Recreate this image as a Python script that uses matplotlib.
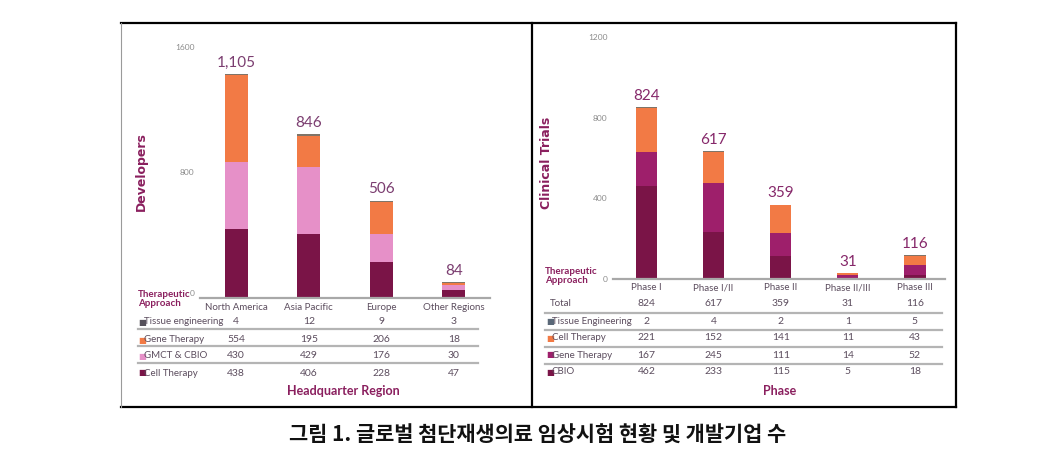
import matplotlib.pyplot as plt
from matplotlib.lines import Line2D
from matplotlib.transforms import blended_transform_factory, ScaledTranslation

W, H = 1064, 476

# left panel: developers by headquarter region
regions = ['North America', 'Asia Pacific', 'Europe', 'Other Regions']
region_labels = ['1,105', '846', '506', '84']
dev_tissue = [4, 12, 9, 3]
dev_gene = [554, 195, 206, 18]
dev_gmct = [430, 429, 176, 30]
dev_cell = [438, 406, 228, 47]

# right panel: clinical trials by phase
phases = ['Phase I', 'Phase I/II', 'Phase II', 'Phase II/III', 'Phase III']
trial_total = [824, 617, 359, 31, 116]
trial_tissue = [2, 4, 2, 1, 5]
trial_cell = [221, 152, 141, 11, 43]
trial_gene = [167, 245, 111, 14, 52]
trial_cbio = [462, 233, 115, 5, 18]

maroon = '#7a1447'
pink = '#e690c8'
orange = '#f27a45'
purple = '#9e1f6b'
grey_top = '#7f7468'
title_col = '#8a1f5e'
txt_col = '#5c4d5e'
tick_col = '#8c8c8c'
line_col = '#b4b4b4'

plt.rcParams['font.family'] = ['Lato', 'DejaVu Sans']


def fx(x):
    return x / W


def fy(y):
    return 1 - y / H


fig = plt.figure(figsize=(W / 100, H / 100), dpi=100)

ax1 = fig.add_axes([fx(200), fy(297.5), 290 / W, 250.5 / H])
ax2 = fig.add_axes([fx(613), fy(279), 332 / W, 242 / H])

# stacked bars, left
x1 = range(len(regions))
bw = 0.32
bottom = [0] * len(regions)
for vals, col in [(dev_cell, maroon), (dev_gmct, pink), (dev_gene, orange), (dev_tissue, grey_top)]:
    ax1.bar(x1, vals, bw, bottom=bottom, color=col, zorder=2)
    bottom = [b + v for b, v in zip(bottom, vals)]
for i, lab in enumerate(region_labels):
    ax1.annotate(lab, (i, bottom[i]), xytext=(0, 3), textcoords='offset points',
                 ha='center', va='bottom', fontsize=11, color='#7b3d70')
ax1.set_xlim(-0.5, 3.5)
ax1.set_ylim(0, 1600)
ax1.set_yticks([0, 800, 1600])

# stacked bars, right
x2 = range(len(phases))
bottom2 = [0] * len(phases)
for vals, col in [(trial_cbio, maroon), (trial_gene, purple), (trial_cell, orange), (trial_tissue, grey_top)]:
    ax2.bar(x2, vals, bw, bottom=bottom2, color=col, zorder=2)
    bottom2 = [b + v for b, v in zip(bottom2, vals)]
for i, tot in enumerate(trial_total):
    ax2.annotate(str(tot), (i, bottom2[i]), xytext=(0, 3), textcoords='offset points',
                 ha='center', va='bottom', fontsize=11, color='#86286a')
ax2.set_xlim(-0.5, 4.45)
ax2.set_ylim(0, 1200)
ax2.set_yticks([0, 400, 800, 1200])

for ax in (ax1, ax2):
    for s in ('top', 'right', 'left'):
        ax.spines[s].set_visible(False)
    ax.spines['bottom'].set_color('#a8a8a8')
    ax.spines['bottom'].set_linewidth(1.6)
    ax.set_xticks([])
    ax.tick_params(axis='y', length=0, labelsize=6, labelcolor=tick_col, pad=4)
    ax.patch.set_alpha(0)

# the zero label sits a little above the baseline in the original
lift = ScaledTranslation(0, 4 / 100, fig.dpi_scale_trans)
zero = ax1.get_yticklabels()[0]
zero.set_transform(zero.get_transform() + lift)


def table(ax, cats, cat_y, rows, lines, x_label, x_end, label_x):
    tr = blended_transform_factory(ax.transData, fig.transFigure)
    for i, c in enumerate(cats):
        ax.text(i, fy(cat_y), c, transform=tr, ha='center', va='center',
                fontsize=7, color=txt_col)
    for name, vals, col, y in rows:
        if col is None:
            fig.text(fx(label_x + 2), fy(y), name, ha='left', va='center',
                     fontsize=7, color=txt_col)
        else:
            fig.text(fx(label_x - 2), fy(y), '\u25a0', ha='left', va='center',
                     fontsize=6, color=col, family='DejaVu Sans')
            fig.text(fx(label_x + 4), fy(y), name, ha='left', va='center',
                     fontsize=7, color=txt_col)
        for i, v in enumerate(vals):
            ax.text(i, fy(y), str(v), transform=tr, ha='center', va='center',
                    fontsize=7.5, color=txt_col)
    for y in lines:
        fig.add_artist(Line2D([fx(x_label), fx(x_end)], [fy(y), fy(y)],
                              color=line_col, lw=1.6))


table(ax1, regions, 307,
      [('Tissue engineering', dev_tissue, '#55505a', 322),
       ('Gene Therapy', dev_gene, orange, 340),
       ('GMCT & CBIO', dev_gmct, pink, 356),
       ('Cell Therapy', dev_cell, maroon, 373)],
      [329, 346, 363], 138, 478, 140)

table(ax2, phases, 288,
      [('Total', trial_total, None, 304),
       ('Tissue Engineering', trial_tissue, '#5a6878', 321.5),
       ('Cell Therapy', trial_cell, orange, 338),
       ('Gene Therapy', trial_gene, purple, 355),
       ('CBIO', trial_cbio, maroon, 372)],
      [312.5, 330, 347, 364], 545, 942, 548)

# panel titles and axis names
fig.text(fx(138), fy(299), 'Therapeutic\nApproach', ha='left', va='center',
         fontsize=7, fontweight='bold', color=title_col, linespacing=1.1)
fig.text(fx(545), fy(276), 'Therapeutic\nApproach', ha='left', va='center',
         fontsize=7, fontweight='bold', color=title_col, linespacing=1.1)
fig.text(fx(141), fy(172), 'Developers', rotation=90, ha='center', va='center',
         fontsize=9, fontweight='bold', color=title_col, family='DejaVu Sans')
fig.text(fx(546), fy(163), 'Clinical Trials', rotation=90, ha='center', va='center',
         fontsize=9, fontweight='bold', color=title_col, family='DejaVu Sans')
fig.text(fx(343), fy(391), 'Headquarter Region', ha='center', va='center',
         fontsize=9, fontweight='bold', color=title_col)
fig.text(fx(780), fy(391), 'Phase', ha='center', va='center',
         fontsize=9, fontweight='bold', color=title_col)

# frame
for xs, ys, c, lw in [([121, 956], [22.7, 22.7], 'black', 1.6),
                      ([121, 956], [407, 407], 'black', 1.6),
                      ([121, 121], [22.7, 407], '#9a9a9a', 0.8),
                      ([531.5, 531.5], [22.7, 407], 'black', 1.6),
                      ([956, 956], [22.7, 407], 'black', 1.6)]:
    fig.add_artist(Line2D([fx(v) for v in xs], [fy(v) for v in ys], color=c, lw=lw))

fig.text(fx(538), fy(435), '그림 1. 글로벌 첨단재생의료 임상시험 현황 및 개발기업 수',
         ha='center', va='center', fontsize=15, fontweight='bold',
         family=['Noto Sans CJK KR', 'DejaVu Sans'], color='#111111')

fig.savefig('out.png', dpi=100)
